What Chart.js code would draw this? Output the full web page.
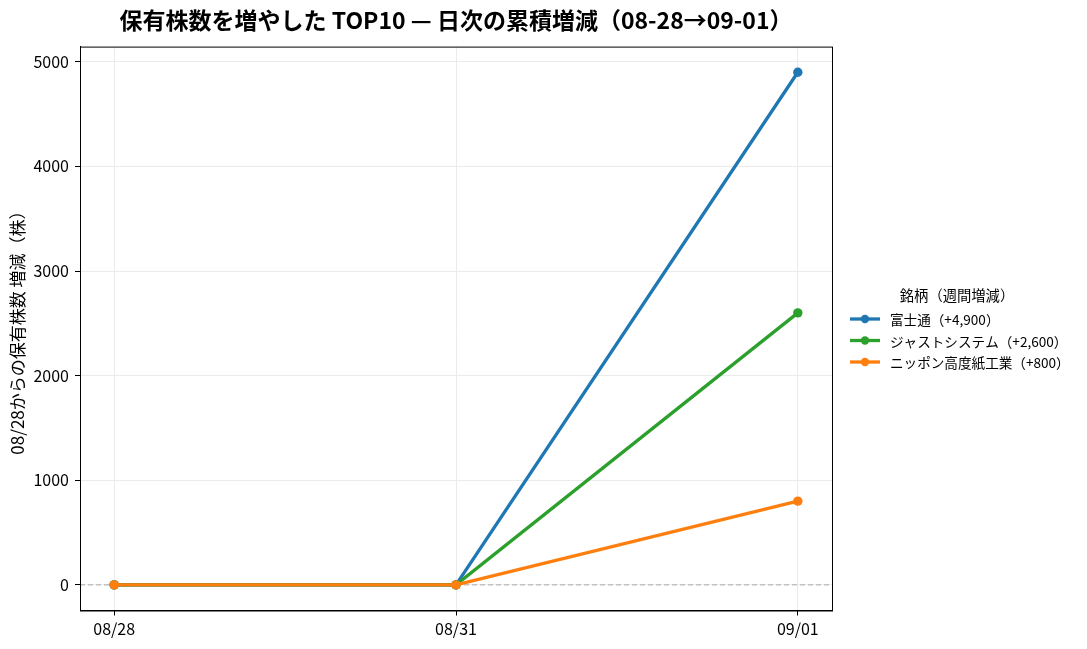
<!DOCTYPE html>
<html>
<head>
<meta charset="utf-8">
<script src="https://cdn.jsdelivr.net/npm/chart.js@4"></script>
<style>
  html, body { margin: 0; padding: 0; background: #fff; }
  #wrap { width: 1087px; height: 649px; }
</style>
</head>
<body>
<div id="wrap"><canvas id="chart" width="1087" height="649"></canvas></div>
<script>
// Holdings increase TOP10 — cumulative change since 08/28

const DATES   = ["08/28", "08/31", "09/01"];
const NAMES   = ["富士通（+4,900）", "ジャストシステム（+2,600）", "ニッポン高度紙工業（+800）"];
const FUJITSU = [0, 0, 4900];
const JUST    = [0, 0, 2600];
const NIPPON  = [0, 0, 800];
const Y_TICKS = [0, 1000, 2000, 3000, 4000, 5000];

const COLORS = ["#1f77b4", "#2ca02c", "#ff7f0e"];
const FONT   = "'Noto Sans CJK JP', 'Noto Sans', sans-serif";

const SERIES = [FUJITSU, JUST, NIPPON];

// ── Frame + zero line ────────────────────────────────────────────────────────
const framePlugin = {
  id: "frame",
  beforeDatasetsDraw(chart) {
    const { ctx, chartArea: a, scales } = chart;
    const y0 = scales.y.getPixelForValue(0);
    ctx.save();
    ctx.strokeStyle = "#aaaaaa";
    ctx.lineWidth = 1;
    ctx.setLineDash([5, 3]);
    ctx.beginPath();
    ctx.moveTo(a.left, y0);
    ctx.lineTo(a.right, y0);
    ctx.stroke();
    ctx.restore();
  },
  afterDraw(chart) {
    const { ctx, chartArea: a } = chart;
    ctx.save();
    ctx.strokeStyle = "#000";
    ctx.lineWidth = 1;
    ctx.strokeRect(a.left + 0.5, a.top + 0.5, a.right - a.left, a.bottom - a.top);
    ctx.restore();
  },
};

// ── Legend (line + marker handles, matplotlib style) ─────────────────────────
const legendPlugin = {
  id: "sideLegend",
  afterDraw(chart) {
    const { ctx } = chart;
    ctx.save();
    ctx.fillStyle = "#000";
    ctx.textBaseline = "middle";
    ctx.font = "14.3px " + FONT;
    ctx.textAlign = "center";
    ctx.fillText("銘柄（週間増減）", 957, 296);
    ctx.font = "13.6px " + FONT;
    ctx.textAlign = "left";
    chart.data.datasets.forEach((ds, i) => {
      const y = 319 + i * 21.5;
      ctx.strokeStyle = ds.borderColor;
      ctx.lineWidth = 3.3;
      ctx.beginPath();
      ctx.moveTo(850, y);
      ctx.lineTo(880, y);
      ctx.stroke();
      ctx.fillStyle = ds.borderColor;
      ctx.beginPath();
      ctx.arc(865, y, 4.2, 0, Math.PI * 2);
      ctx.fill();
      ctx.fillStyle = "#000";
      ctx.fillText(ds.label, 890, y + 1);
    });
    ctx.restore();
  },
};

new Chart(document.getElementById("chart"), {
  type: "line",
  data: {
    datasets: SERIES.map((vals, i) => ({
      label:            NAMES[i],
      data:             vals.map((v, j) => ({ x: j, y: v })),
      borderColor:      COLORS[i],
      backgroundColor:  COLORS[i],
      borderWidth:      3.3,
      pointRadius:      4.7,
      pointBorderWidth: 0,
      pointHoverRadius: 4.7,
      tension:          0,
      order:            SERIES.length - i,
    })),
  },
  options: {
    responsive: false,
    animation: false,
    devicePixelRatio: 1,
    layout: { padding: { top: 0, right: 255, left: 0, bottom: 0 } },
    plugins: {
      legend: { display: false },
      tooltip: { enabled: false },
      title: {
        display: true,
        fullSize: false,
        text: "保有株数を増やした TOP10 — 日次の累積増減（08-28→09-01）",
        color: "#000",
        font: { family: FONT, size: 23, weight: "bold" },
        padding: { top: 6, bottom: 13 },
      },
    },
    scales: {
      x: {
        type: "linear",
        min: -0.1,
        max: 2.1,
        afterBuildTicks: s => { s.ticks = DATES.map((_, i) => ({ value: i })); },
        afterFit: s => { s.height = 38.5; },
        ticks: {
          color: "#000",
          font: { family: FONT, size: 16 },
          padding: 4,
          callback: v => DATES[v],
        },
        grid: { color: "#ebebeb", tickColor: "#000", tickLength: 5 },
        border: { color: "#000" },
      },
      y: {
        min: -245,
        max: 5145,
        afterBuildTicks: s => { s.ticks = Y_TICKS.map(v => ({ value: v })); },
        afterFit: s => { s.width = 80; },
        ticks: {
          color: "#000",
          font: { family: FONT, size: 16 },
          padding: 6,
          callback: v => String(v),
        },
        grid: { color: "#ebebeb", tickColor: "#000", tickLength: 5 },
        border: { color: "#000" },
        title: {
          display: true,
          text: "08/28からの保有株数 増減（株）",
          color: "#000",
          font: { family: FONT, size: 17 },
          padding: { top: 7, bottom: 0 },
        },
      },
    },
  },
  plugins: [framePlugin, legendPlugin],
});
</script>
</body>
</html>
